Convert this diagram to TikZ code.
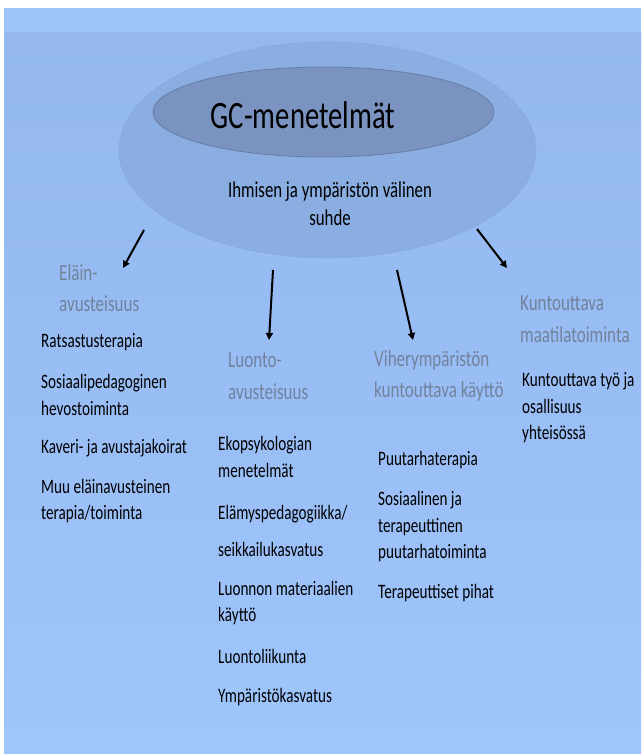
\documentclass[tikz,border=0pt]{standalone}
\usepackage{fontspec}
\setmainfont[FakeStretch=0.74]{Carlito}
\usepackage{xcolor}
\usepackage{tikz}
\usetikzlibrary{arrows.meta,shapes.geometric}

\definecolor{bandblue}{HTML}{9EC4FC}
\definecolor{bgtop}{HTML}{93B7EE}
\definecolor{bgbot}{HTML}{9FC5FD}
\definecolor{outerfill}{HTML}{8AADE2}
\definecolor{innerfill}{HTML}{7A93C0}
\definecolor{hdrgray}{HTML}{72829C}

\begin{document}
\begin{tikzpicture}[x=1pt, y=-1pt,
  oval/.style={ellipse, inner sep=0pt, fill=#1},
  hdr/.style={anchor=west, align=left, inner sep=0pt, text=hdrgray,
              font=\fontsize{23}{31.5}\selectfont},
  item/.style={anchor=west, align=left, inner sep=0pt,
               font=\fontsize{20.5}{26.5}\selectfont},
  arr/.style={-{Triangle[length=7pt,width=7pt]}, line width=2pt, black}
]
\useasboundingbox (0,0) rectangle (641,755);

%% ---- background ----
\fill[white] (0,0) rectangle (641,755);
\shade[top color=bgtop, bottom color=bgbot] (4,32) rectangle (641,753);
\fill[bandblue] (4,8) rectangle (641,32);

%% ---- centre ----
\node[oval=outerfill, draw=outerfill!96!black, line width=0.3pt,
      minimum width=417, minimum height=216] (outer) at (327.5,150) {};
\node[oval=innerfill, draw=innerfill!85!black, line width=0.8pt,
      minimum width=341, minimum height=90] (inner) at (323.5,112) {};
\node[inner sep=0pt, font=\fontsize{38.7}{40}\selectfont] (gc) at (303,115) {GC-menetelmät};
\node[inner sep=0pt, align=center, font=\fontsize{22.7}{28}\selectfont] (suhde) at (330,204)
  {Ihmisen ja ympäristön välinen\\suhde};

%% ---- headings ----
\node[hdr] (elain)   at (59,288)  {Eläin-\\avusteisuus};
\node[hdr] (luonto)  at (228,376) {Luonto-\\avusteisuus};
\node[hdr] (viher)   at (374,376) {Viherympäristön\\kuntouttava käyttö};
\node[hdr] (maatila) at (520,319) {Kuntouttava\\maatilatoiminta};

%% ---- column 1 ----
\node[item] (r1) at (41,342) {Ratsastusterapia};
\node[item] (r2) at (41,395) {Sosiaalipedagoginen\\hevostoiminta};
\node[item] (r3) at (41,448) {Kaveri- ja avustajakoirat};
\node[item] (r4) at (41,501) {Muu eläinavusteinen\\terapia/toiminta};

%% ---- column 2 ----
\node[item] (l1) at (218,457) {Ekopsykologian\\menetelmät};
\node[item] (l2) at (218,531) {Elämyspedagogiikka/\\[11pt]seikkailukasvatus};
\node[item] (l3) at (218,603) {Luonnon materiaalien\\käyttö};
\node[item] (l4) at (218,656) {Luontoliikunta};
\node[item] (l5) at (218,697) {Ympäristökasvatus};

%% ---- column 3 ----
\node[item] (v1) at (378,460) {Puutarhaterapia};
\node[item] (v2) at (378,527) {Sosiaalinen ja\\terapeuttinen\\puutarhatoiminta};
\node[item] (v3) at (378,593) {Terapeuttiset pihat};

%% ---- column 4 ----
\node[item] (m1) at (522,408) {Kuntouttava työ ja\\osallisuus\\yhteisössä};

%% arrows
\coordinate (s1) at (144,230); \coordinate (t1) at (123,268);
\coordinate (s2) at (273,270); \coordinate (t2) at (269,340);
\coordinate (s3) at (397,270); \coordinate (t3) at (413,340);
\coordinate (s4) at (477,229); \coordinate (t4) at (507,268);
\foreach \i in {1,...,4}
  \draw[arr] (s\i) -- (t\i);

\end{tikzpicture}
\end{document}
